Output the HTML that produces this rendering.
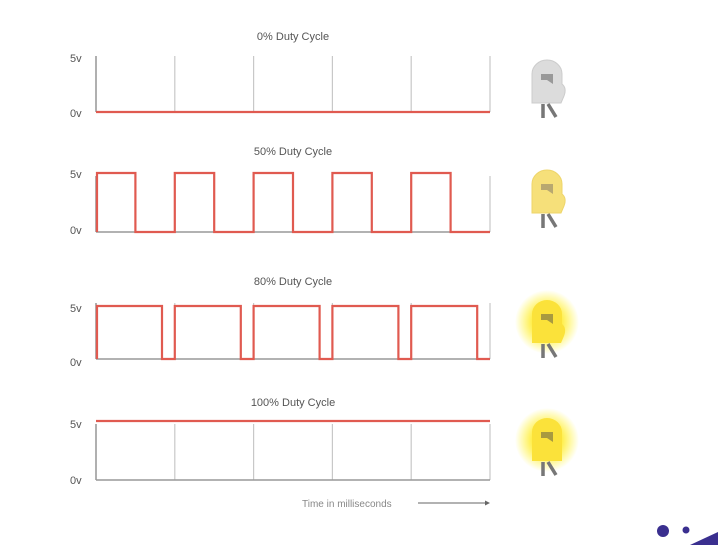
<!DOCTYPE html>
<html><head><style>
html,body{margin:0;padding:0;background:#fff;width:718px;height:550px;overflow:hidden}
svg text{font-family:"Liberation Sans",sans-serif;fill:#555}
</style></head><body>
<svg width="718" height="550" viewBox="0 0 718 550" xmlns="http://www.w3.org/2000/svg">
<defs>
<radialGradient id="glow"><stop offset="0.4" stop-color="#ffe600" stop-opacity="0.8"/><stop offset="1" stop-color="#fff200" stop-opacity="0"/></radialGradient>
<g id="grid">
<path d="M96 0V56M174.8 0V56M253.6 0V56M332.4 0V56M411.2 0V56M490 0V56" stroke="#c8c8c8" stroke-width="1.2" fill="none"/>
<path d="M96 0V56" stroke="#999" stroke-width="1.5"/>
<path d="M96 56H490" stroke="#999" stroke-width="1.5"/>
</g>
<g id="legs"><path d="M-4 44V58M1 44L9 57" stroke="#777" stroke-width="3.5" fill="none"/></g>
</defs>
<g font-size="11" text-anchor="middle">
<text x="293" y="40">0% Duty Cycle</text>
<text x="293" y="155">50% Duty Cycle</text>
<text x="293" y="285">80% Duty Cycle</text>
<text x="293" y="406">100% Duty Cycle</text>
</g>
<g font-size="11">
<text x="70" y="62">5v</text><text x="70" y="117">0v</text>
<text x="70" y="178">5v</text><text x="70" y="234">0v</text>
<text x="70" y="312">5v</text><text x="70" y="366">0v</text>
<text x="70" y="428">5v</text><text x="70" y="484">0v</text>
</g>
<use href="#grid" transform="translate(0,56)"/>
<path d="M96 112H490" stroke="#e05a50" stroke-width="2.2" fill="none"/>
<use href="#grid" transform="translate(0,176)"/>
<path d="M97 232V173H135.4V232H174.8V173H214.2V232H253.6V173H293V232H332.4V173H371.8V232H411.2V173H450.6V232H490" stroke="#e05a50" stroke-width="2.2" fill="none"/>
<use href="#grid" transform="translate(0,303)"/>
<path d="M97 359V306H162V359H174.8V306H240.8V359H253.6V306H319.6V359H332.4V306H398.4V359H411.2V306H477.2V359H490" stroke="#e05a50" stroke-width="2.2" fill="none"/>
<use href="#grid" transform="translate(0,424)"/>
<path d="M96 421H490" stroke="#e05a50" stroke-width="2.2" fill="none"/>
<text x="302" y="507" font-size="10" fill="#888" style="fill:#888">Time in milliseconds</text>
<path d="M418 503H488" stroke="#666" stroke-width="1"/><path d="M490 503l-5-2.5v5z" fill="#666"/>
<!-- LEDs -->
<g transform="translate(547,60)"><use href="#legs"/><path d="M-15 43V14A15 14 0 0 1 15 14V24Q20 28 17 36L14 43Z" fill="#dcdcdc" stroke="#ccc"/><path d="M-6 14H6V24L0 20H-6Z" fill="#999"/></g>
<g transform="translate(547,170)"><use href="#legs"/><path d="M-15 43V14A15 14 0 0 1 15 14V24Q20 28 17 36L14 43Z" fill="#f6e07a" stroke="#eed56a"/><path d="M-6 14H6V24L0 20H-6Z" fill="#b8a870"/></g>
<circle cx="547" cy="322" r="32" fill="url(#glow)"/>
<g transform="translate(547,300)"><use href="#legs"/><path d="M-15 43V14A15 14 0 0 1 15 14V24Q20 28 17 36L14 43Z" fill="#fbe23a"/><path d="M-6 14H6V24L0 20H-6Z" fill="#a89a40"/></g>
<circle cx="547" cy="440" r="32" fill="url(#glow)"/>
<g transform="translate(547,418)"><use href="#legs"/><path d="M-15 43V14A15 14 0 0 1 15 14V43Z" fill="#fbe23a"/><path d="M-6 14H6V24L0 20H-6Z" fill="#a89a40"/></g>
<circle cx="663" cy="531" r="6" fill="#3a2f8f"/>
<circle cx="686" cy="530" r="3.5" fill="#3a2f8f"/>
<path d="M690 545Q705 538 718 532V545Z" fill="#3a2f8f"/>
</svg>
</body></html>
